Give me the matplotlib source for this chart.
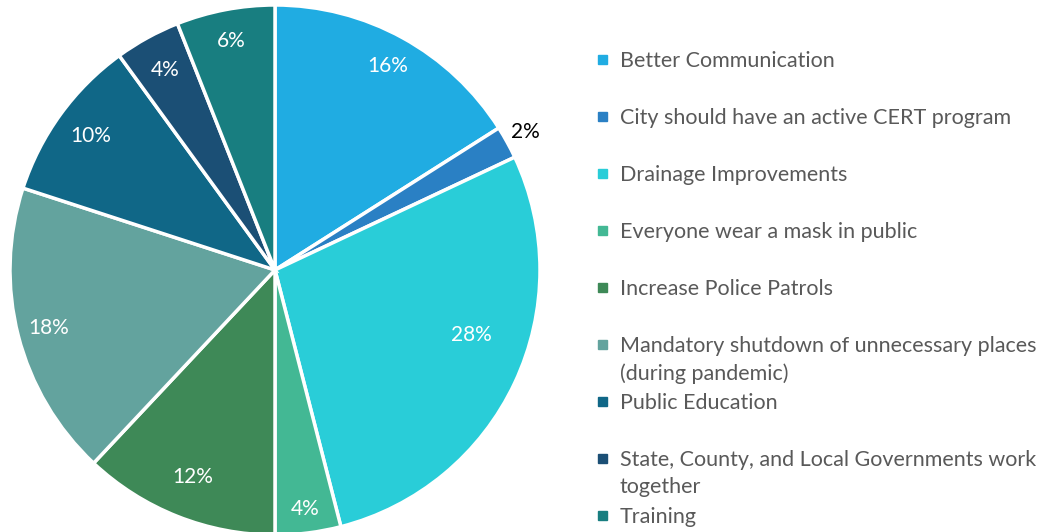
import numpy as np
import matplotlib
matplotlib.use('Agg')
import matplotlib.pyplot as plt
from matplotlib.patches import Rectangle

###       DATA        ###
labels = ['Better Communication',
          'City should have an active CERT program',
          'Drainage Improvements',
          'Everyone wear a mask in public',
          'Increase Police Patrols',
          'Mandatory shutdown of unnecessary places\n(during pandemic)',
          'Public Education',
          'State, County, and Local Governments work\ntogether',
          'Training']
values = [16, 2, 28, 4, 12, 18, 10, 4, 6]
colors = ['#20ACE2', '#2A80C4', '#29CDD8', '#43B894', '#3E8957',
          '#63A39E', '#106787', '#1B4F75', '#187E80']
# label distance from centre (fraction of radius) and angle tweak (deg), per slice
label_dist = [0.88, 1.08, 0.78, 0.91, 0.84, 0.88, 0.86, 0.86, 0.88]
label_turn = [0, 0, 7, 0, 0, 0, 0, 0, 0]
###                   ###

plt.rcParams['font.family'] = ['Lato', 'DejaVu Sans']

W, H = 1057, 532
fig = plt.figure(figsize=(W / 100, H / 100), dpi=100)

# pie axes: centre (275, 270) px from top-left, radius 265 px
cx, cy, r = 275, 270, 265
ax = fig.add_axes([(cx - r) / W, (H - cy - r) / H, 2 * r / W, 2 * r / H])
wedges, _ = ax.pie(values, colors=colors, startangle=90, counterclock=False,
                   wedgeprops=dict(edgecolor='white', linewidth=2.5))
ax.set_xlim(-1, 1)
ax.set_ylim(-1, 1)
ax.set_aspect('equal')
ax.axis('off')

for w, v, d, t in zip(wedges, values, label_dist, label_turn):
    ang = np.deg2rad((w.theta1 + w.theta2) / 2 + t)
    col = 'black' if d > 1 else 'white'
    ax.text(d * np.cos(ang), d * np.sin(ang), f'{v}%', ha='center', va='center',
            fontsize=15, color=col)

# legend
for i, (lab, c) in enumerate(zip(labels, colors)):
    y = 60 + 57 * i
    fig.patches.append(Rectangle((598 / W, 1 - (y + 4) / H), 9 / W, 9 / H,
                                 transform=fig.transFigure, color=c))
    fig.text(620 / W, 1 - (y - 9) / H, lab, ha='left', va='top',
             fontsize=15.5, color='#595959', linespacing=1.45)

fig.savefig('out.png', dpi=100, facecolor='white')
